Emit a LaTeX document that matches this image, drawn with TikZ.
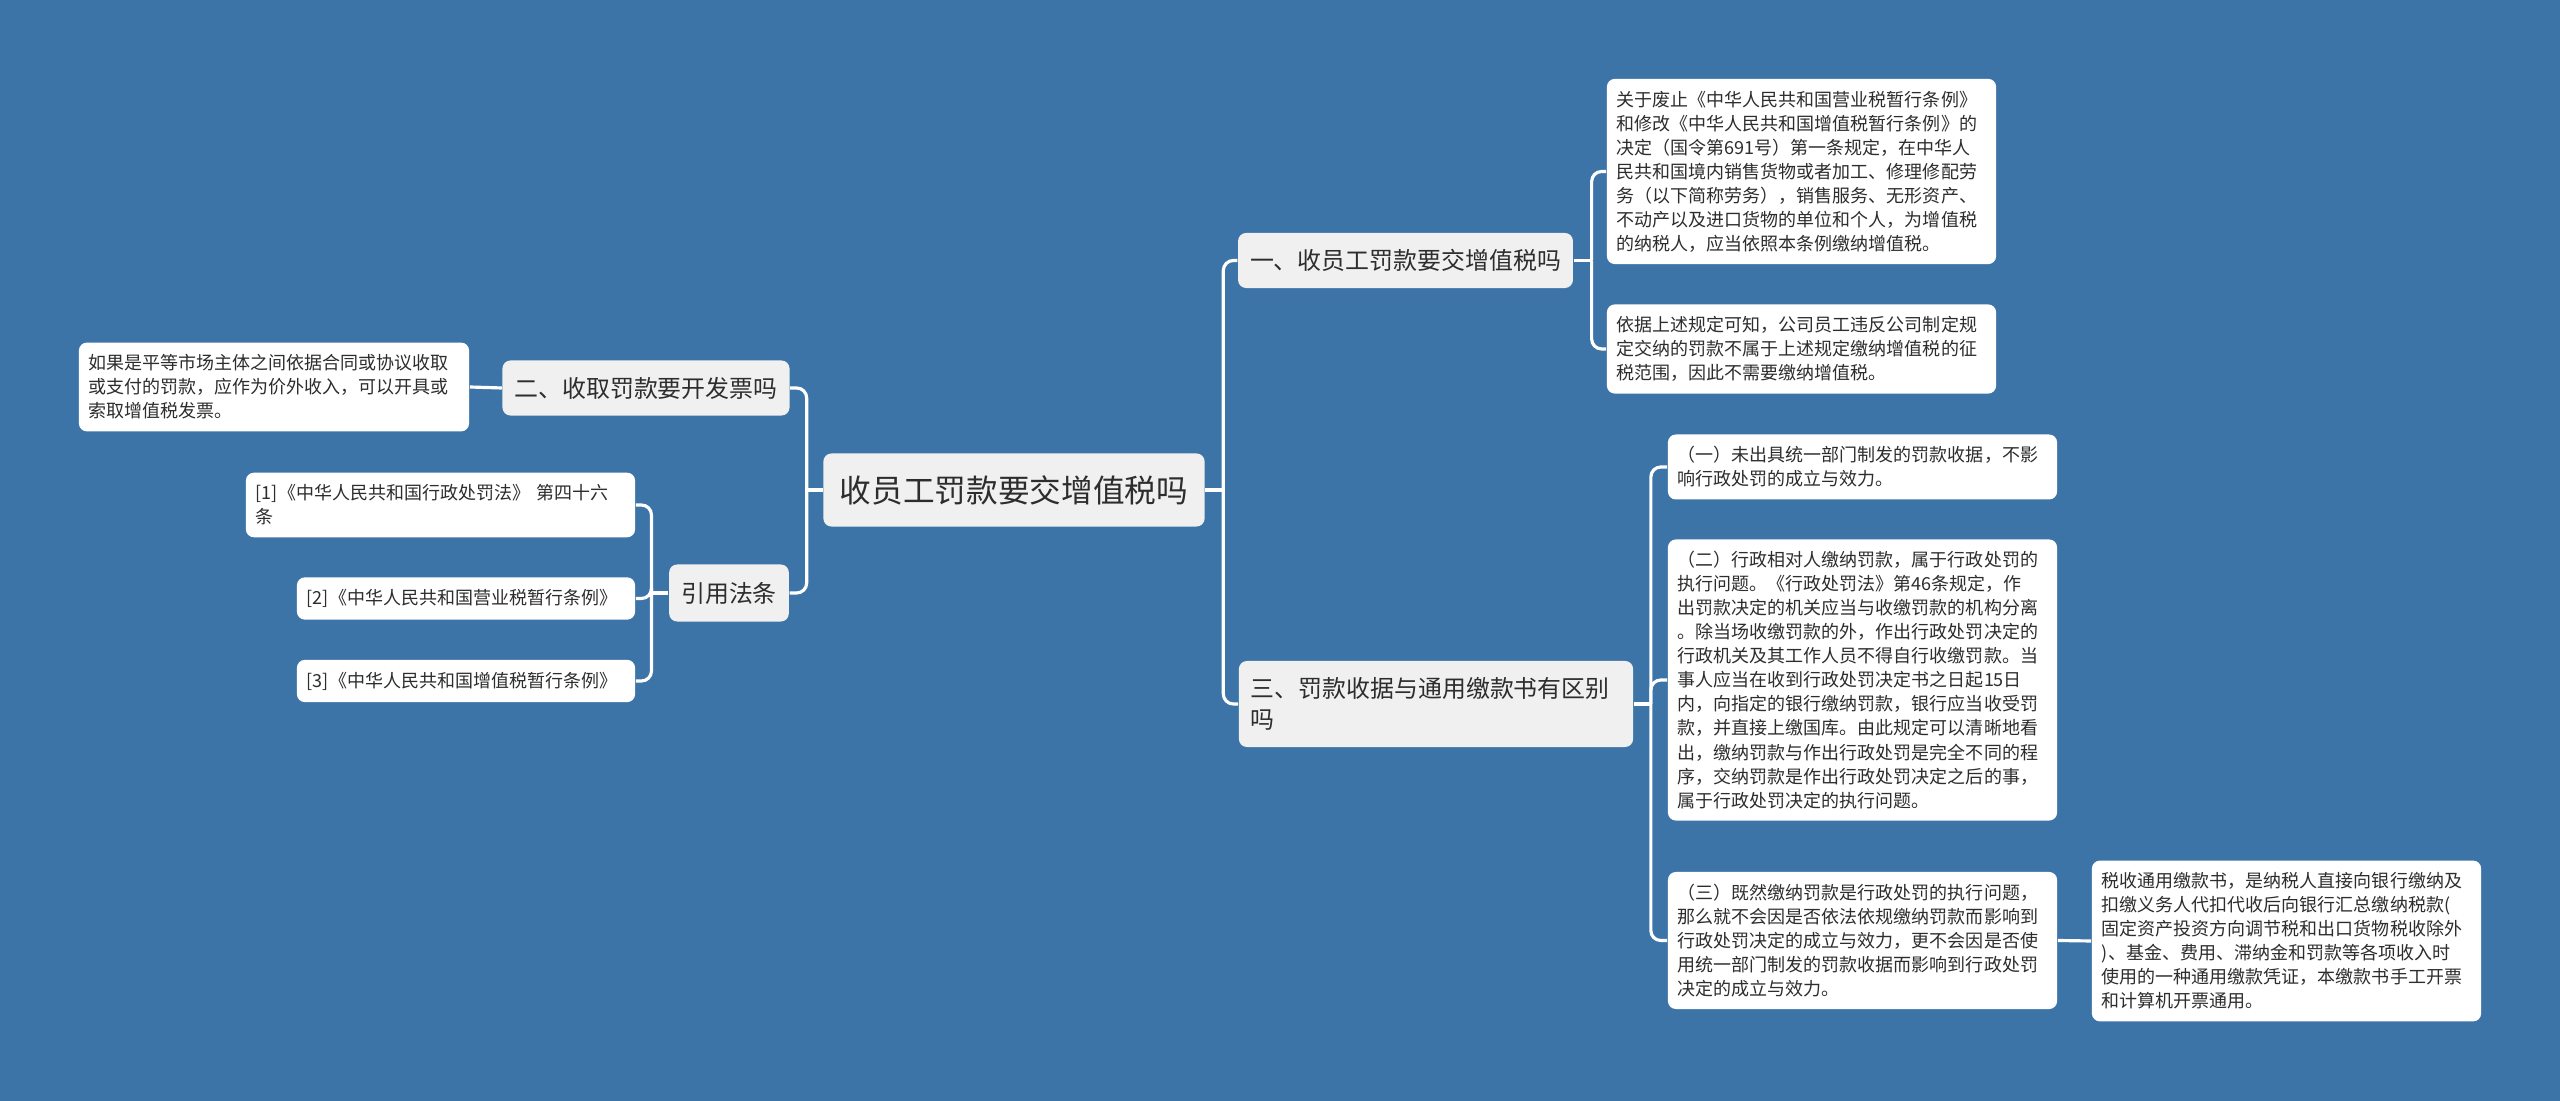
\documentclass[tikz,border=0pt]{standalone}
\usepackage{fontspec}
\setmainfont{Noto Sans CJK SC}
\definecolor{bgblue}{RGB}{61,116,167}
\definecolor{topicgray}{RGB}{240,240,240}
\definecolor{textdark}{RGB}{45,45,45}

\begin{document}
\begin{tikzpicture}[x=0.01cm, y=-0.01cm,
    topic/.style={fill=topicgray, rounded corners=0.08cm, text=textdark, inner xsep=0.12cm, inner ysep=0.1cm, font=\fontsize{6.8pt}{8.8pt}\selectfont},
    leaf/.style={fill=white, rounded corners=0.08cm, text=textdark, align=left, inner xsep=0.1cm, inner ysep=0.12cm, font=\fontsize{5.12pt}{6.83pt}\selectfont},
    link/.style={draw=white, line width=0.9pt, rounded corners=0.1cm}]

    \fill[bgblue] (0,0) rectangle (2560,1101);

    % main topics
    \node[topic, minimum width=3.81cm, minimum height=0.73cm, font=\fontsize{9pt}{11pt}\selectfont] (root) at (1014,490) {收员工罚款要交增值税吗};
    \node[topic, minimum width=3.33cm, minimum height=0.55cm] (one) at (1405.5,260.5) {一、收员工罚款要交增值税吗};
    \node[topic, minimum width=2.86cm, minimum height=0.55cm] (two) at (646,388) {二、收取罚款要开发票吗};
    \node[topic, minimum width=1.18cm, minimum height=0.57cm] (cite) at (729,593) {引用法条};
    \node[topic, text width=3.70cm, minimum height=0.86cm, align=left] (three) at (1436,704) {三、罚款收据与通用缴款书有区别\\吗};

    % details
    \node[leaf, text width=3.69cm] (abolish) at (1801.5,171.5) {关于废止《中华人民共和国营业税暂行条例》\\和修改《中华人民共和国增值税暂行条例》的\\决定（国令第691号）第一条规定，在中华人\\民共和国境内销售货物或者加工、修理修配劳\\务（以下简称劳务），销售服务、无形资产、\\不动产以及进口货物的单位和个人，为增值税\\的纳税人，应当依照本条例缴纳增值税。};
    \node[leaf, text width=3.69cm] (scope) at (1801.5,349) {依据上述规定可知，公司员工违反公司制定规\\定交纳的罚款不属于上述规定缴纳增值税的征\\税范围，因此不需要缴纳增值税。};
    \node[leaf, text width=3.69cm] (receipt) at (1862.5,467) {（一）未出具统一部门制发的罚款收据，不影\\响行政处罚的成立与效力。};
    \node[leaf, text width=3.69cm] (execute) at (1862.5,680) {（二）行政相对人缴纳罚款，属于行政处罚的\\执行问题。《行政处罚法》第46条规定，作\\出罚款决定的机关应当与收缴罚款的机构分离\\。除当场收缴罚款的外，作出行政处罚决定的\\行政机关及其工作人员不得自行收缴罚款。当\\事人应当在收到行政处罚决定书之日起15日\\内，向指定的银行缴纳罚款，银行应当收受罚\\款，并直接上缴国库。由此规定可以清晰地看\\出，缴纳罚款与作出行政处罚是完全不同的程\\序，交纳罚款是作出行政处罚决定之后的事，\\属于行政处罚决定的执行问题。};
    \node[leaf, text width=3.69cm] (validity) at (1862.5,940.5) {（三）既然缴纳罚款是行政处罚的执行问题，\\那么就不会因是否依法依规缴纳罚款而影响到\\行政处罚决定的成立与效力，更不会因是否使\\用统一部门制发的罚款收据而影响到行政处罚\\决定的成立与效力。};
    \node[leaf, text width=3.69cm] (taxbook) at (2286.5,941) {税收通用缴款书，是纳税人直接向银行缴纳及\\扣缴义务人代扣代收后向银行汇总缴纳税款(\\固定资产投资方向调节税和出口货物税收除外\\)、基金、费用、滞纳金和罚款等各项收入时\\使用的一种通用缴款凭证，本缴款书手工开票\\和计算机开票通用。};
    \node[leaf, text width=3.70cm] (invoice) at (274,387) {如果是平等市场主体之间依据合同或协议收取\\或支付的罚款，应作为价外收入，可以开具或\\索取增值税发票。};
    \node[leaf, text width=3.69cm] (law1) at (440.5,505) {[1]《中华人民共和国行政处罚法》 第四十六\\条};
    \node[leaf, text width=3.18cm] (law2) at (466,598.5) {[2]《中华人民共和国营业税暂行条例》};
    \node[leaf, text width=3.18cm] (law3) at (466,681) {[3]《中华人民共和国增值税暂行条例》};

    % connectors
    \draw[link] (root.west) -- ++(-16,0) coordinate (lj);
    \draw[link] (lj) |- (two.east);
    \draw[link] (lj) |- (cite.east);
    \draw[link] (root.east) -- ++(18,0) coordinate (rj);
    \draw[link] (rj) |- (one.west);
    \draw[link] (rj) |- (three.west);
    \draw[link] (one.east) -- ++(18,0) coordinate (oj);
    \draw[link] (oj) |- (abolish.west);
    \draw[link] (oj) |- (scope.west);
    \draw[link] (three.east) -- ++(17,0) coordinate (tj);
    \draw[link] (tj) |- (receipt.west);
    \draw[link] (tj) |- (execute.west);
    \draw[link] (tj) |- (validity.west);
    \draw[link] (validity.east) -- (taxbook.west);
    \draw[link] (two.west) -- (invoice.east);
    \draw[link] (cite.west) -- ++(-17,0) coordinate (cj);
    \draw[link] (cj) |- (law1.east);
    \draw[link] (cj) |- (law2.east);
    \draw[link] (cj) |- (law3.east);
\end{tikzpicture}
\end{document}
